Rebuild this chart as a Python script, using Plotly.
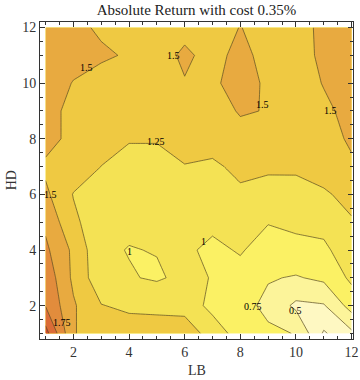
import plotly.graph_objects as go

# grid axes
lb = list(range(1, 13))
hd = list(range(1, 13))

# absolute return, one row per HD value (HD = 1 ... 12), columns LB = 1 ... 12
hd_01 = [2.35, 1.51, 1.42, 1.38, 1.35, 1.33, 1.19, 0.85, 0.80, 0.74, 0.22, 0.45]
hd_02 = [1.99, 1.53, 1.26, 1.20, 1.20, 1.20, 0.90, 0.85, 0.68, 0.45, 0.48, 0.85]
hd_03 = [1.92, 1.45, 1.08, 1.02, 0.97, 1.06, 0.99, 0.92, 0.77, 0.73, 0.80, 1.05]
hd_04 = [1.80, 1.45, 1.05, 0.99, 1.01, 1.04, 0.95, 1.02, 0.90, 0.93, 0.95, 1.15]
hd_05 = [1.70, 1.30, 1.10, 1.05, 1.04, 1.05, 1.05, 1.08, 1.01, 1.05, 1.08, 1.23]
hd_06 = [1.55, 1.24, 1.12, 1.10, 1.08, 1.10, 1.12, 1.20, 1.18, 1.16, 1.22, 1.32]
hd_07 = [1.45, 1.38, 1.248, 1.15, 1.15, 1.24, 1.20, 1.32, 1.28, 1.29, 1.35, 1.47]
hd_08 = [1.60, 1.42, 1.32, 1.27, 1.27, 1.35, 1.37, 1.42, 1.40, 1.38, 1.42, 1.53]
hd_09 = [1.60, 1.42, 1.38, 1.36, 1.35, 1.38, 1.40, 1.52, 1.49, 1.40, 1.46, 1.56]
hd_10 = [1.62, 1.49, 1.42, 1.40, 1.36, 1.48, 1.45, 1.62, 1.45, 1.40, 1.51, 1.60]
hd_11 = [1.62, 1.58, 1.53, 1.48, 1.36, 1.56, 1.39, 1.60, 1.38, 1.42, 1.54, 1.60]
hd_12 = [1.60, 1.55, 1.47, 1.42, 1.38, 1.40, 1.42, 1.505, 1.43, 1.45, 1.53, 1.60]
z = [hd_01, hd_02, hd_03, hd_04, hd_05, hd_06, hd_07, hd_08, hd_09, hd_10, hd_11, hd_12]

# contour labels as drawn on the chart
label_text = ["1.5", "1.5", "1.5", "1.5", "1.25", "1.5", "1", "1", "1.75", "0.75", "0.5"]
label_pos = [(2.46, 10.55), (5.6, 11.0), (8.81, 9.25), (11.24, 9.0), (4.98, 7.92),
             (1.16, 6.0), (4.0, 3.94), (6.69, 4.3), (1.6, 1.38), (8.45, 1.96), (10.0, 1.81)]

# one colour per band: <0.25, 0.25-0.5, ..., >2.25
band_colors = ["#FFFCDC", "#FEF8C2", "#FCF49A", "#FBF164", "#F4E254",
               "#EFC942", "#E8AA40", "#E28C3C", "#DB6C37", "#D04A30"]
colorscale = [[k / 9, c] for k, c in enumerate(band_colors)]

serif = "Liberation Serif"

fig = go.Figure(go.Contour(
    x=lb, y=hd, z=z,
    colorscale=colorscale,
    showscale=False,
    contours=dict(start=0.25, end=2.25, size=0.25, coloring="fill", showlines=True),
    line=dict(color="rgba(90,75,35,0.7)", width=1, smoothing=0),
    hoverinfo="skip",
))

for txt, (px_, py_) in zip(label_text, label_pos):
    fig.add_annotation(x=px_, y=py_, text=txt, showarrow=False,
                       font=dict(family=serif, size=10, color="black"))

# axis titles
fig.add_annotation(x=0.5, y=-0.1, xref="paper", yref="paper", text="LB", showarrow=False,
                   xanchor="center", yanchor="middle",
                   font=dict(family=serif, size=14, color="#333"))
fig.add_annotation(x=-0.09, y=0.5, xref="paper", yref="paper", text="HD", showarrow=False,
                   xanchor="center", yanchor="middle", textangle=-90,
                   font=dict(family=serif, size=14, color="#333"))

axis_style = dict(
    showline=True, linecolor="#333", linewidth=1, mirror="ticks",
    ticks="inside", ticklen=5, tickcolor="#333", tick0=0, dtick=2,
    minor=dict(dtick=0.5, ticklen=3, tickcolor="#333", ticks="inside"),
    showgrid=False, zeroline=False, automargin=False,
    tickfont=dict(family=serif, size=14, color="#333"),
)

layout = go.Layout(
    title=go.layout.Title(text="Absolute Return with cost 0.35%", x=0.5, xref="paper",
                          y=0.975, yanchor="middle",
                          font=dict(family=serif, size=15, color="#222")),
    width=360, height=380,
    margin=dict(l=40, r=7, t=22, b=41),
    paper_bgcolor="white", plot_bgcolor="white",
    xaxis=dict(axis_style, range=[0.8, 12.05]),
    yaxis=dict(axis_style, range=[0.8, 12.2]),
)
fig.update_layout(layout)
# drop the browser's default body margin so the figure sits at the page corner
fig.write_html("out.html", config={"displayModeBar": False},
               post_script="document.body.style.margin = '0';")
